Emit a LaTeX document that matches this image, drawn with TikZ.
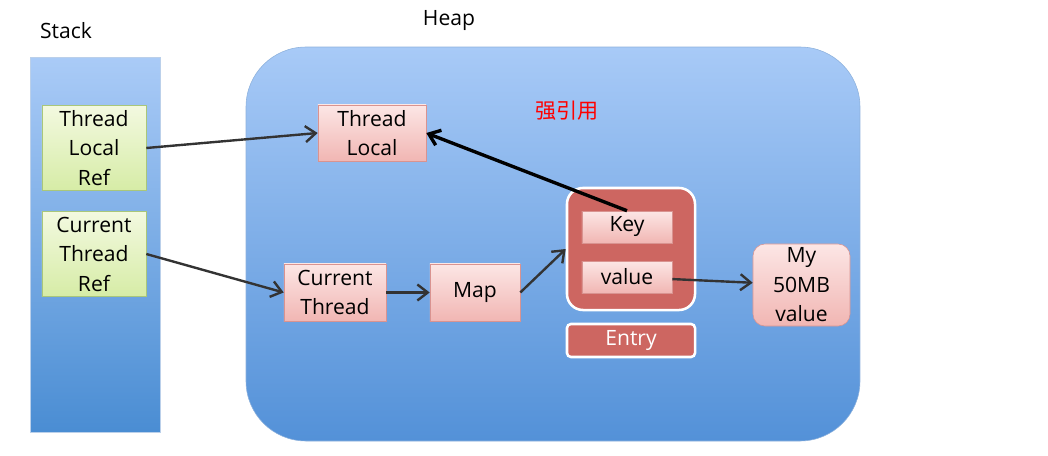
\documentclass[tikz,border=0pt]{standalone}
\usepackage{fontspec}
\setmainfont{Open Sans}
\newfontfamily\cjk{Noto Sans CJK SC}
\usetikzlibrary{arrows.meta}

\definecolor{stacktop}{HTML}{AACBF7}
\definecolor{stackbot}{HTML}{4A8DD3}
\definecolor{heaptop}{HTML}{A8CAF7}
\definecolor{heapbot}{HTML}{5391D8}
\definecolor{heapline}{HTML}{8DB1DC}
\definecolor{greentop}{HTML}{F3F9E0}
\definecolor{greenbot}{HTML}{D6ECA6}
\definecolor{greenline}{HTML}{A9C77A}
\definecolor{pinktop}{HTML}{FCE6E5}
\definecolor{pinkbot}{HTML}{F1B6B3}
\definecolor{pinkline}{HTML}{D99390}
\definecolor{entryred}{HTML}{CD6661}
\definecolor{linkgray}{HTML}{333333}

\tikzset{
  greenbox/.style={draw=greenline, top color=greentop, bottom color=greenbot,
    minimum width=2.6cm, minimum height=2.125cm, align=center, inner sep=1pt},
  pinkbox/.style={draw=pinkline, top color=pinktop, bottom color=pinkbot,
    align=center, inner sep=1pt},
  entrybox/.style={draw=white, line width=1.8pt, fill=entryred},
  link/.style={draw=linkgray, line width=1.7pt, -{Straight Barb[length=2.6mm,width=4mm]}}
}

\begin{document}
\begin{tikzpicture}[x=0.025cm,y=-0.025cm,font=\fontsize{15}{21}\selectfont]
\useasboundingbox (0,0) rectangle (1048,455);
\draw[draw=heapline!60, top color=stacktop, bottom color=stackbot] (30,57) rectangle (160,432);
\node (stack) at (66,31) {Stack};
\draw[draw=heapline, top color=heaptop, bottom color=heapbot, rounded corners=1.5cm]
  (246,47) rectangle (860,441);
\node (heap) at (449,21) {Heap};
\node[text=red] (strong) at (567,111) {\cjk 强引用};

\node[greenbox] (tlref) at (94,148) {Thread\\Local\\Ref};
\node[greenbox] (ctref) at (94,254) {Current\\Thread\\Ref};

\node[pinkbox, minimum width=2.7cm, minimum height=1.4cm] (tl) at (372,133) {Thread\\Local};
\node[pinkbox, minimum width=2.55cm, minimum height=1.425cm] (ct) at (335,292.5) {Current\\Thread};
\node[pinkbox, minimum width=2.25cm, minimum height=1.425cm] (map) at (475,292.5) {Map};

\node[entrybox, minimum width=3.2cm, minimum height=3.05cm, rounded corners=0.4cm] (entry) at (631,249) {};
\node[pinkbox, minimum width=2.25cm, minimum height=0.8cm] (key) at (627,227) {Key};
\node[pinkbox, minimum width=2.25cm, minimum height=0.8cm] (val) at (627,277) {value};
\node[entrybox, minimum width=3.2cm, minimum height=0.825cm, rounded corners=0.1cm,
  text=white, inner sep=0pt] (entrylbl) at (631,340.5) {Entry};

\node[pinkbox, minimum width=2.425cm, minimum height=2.05cm, rounded corners=0.3cm] (big)
  at (801.5,285) {My\\50MB\\value};

\draw[link] (tlref.east) -- (tl.west);
\draw[link] (ctref.east) -- (ct.west);
\draw[link] (ct) -- (map);
\draw[link] (map.east) -- (entry.west);
\draw[link] (val) -- (big);
\draw[link, draw=black, line width=2.4pt] (key.north) -- (tl.east);
\end{tikzpicture}
\end{document}
